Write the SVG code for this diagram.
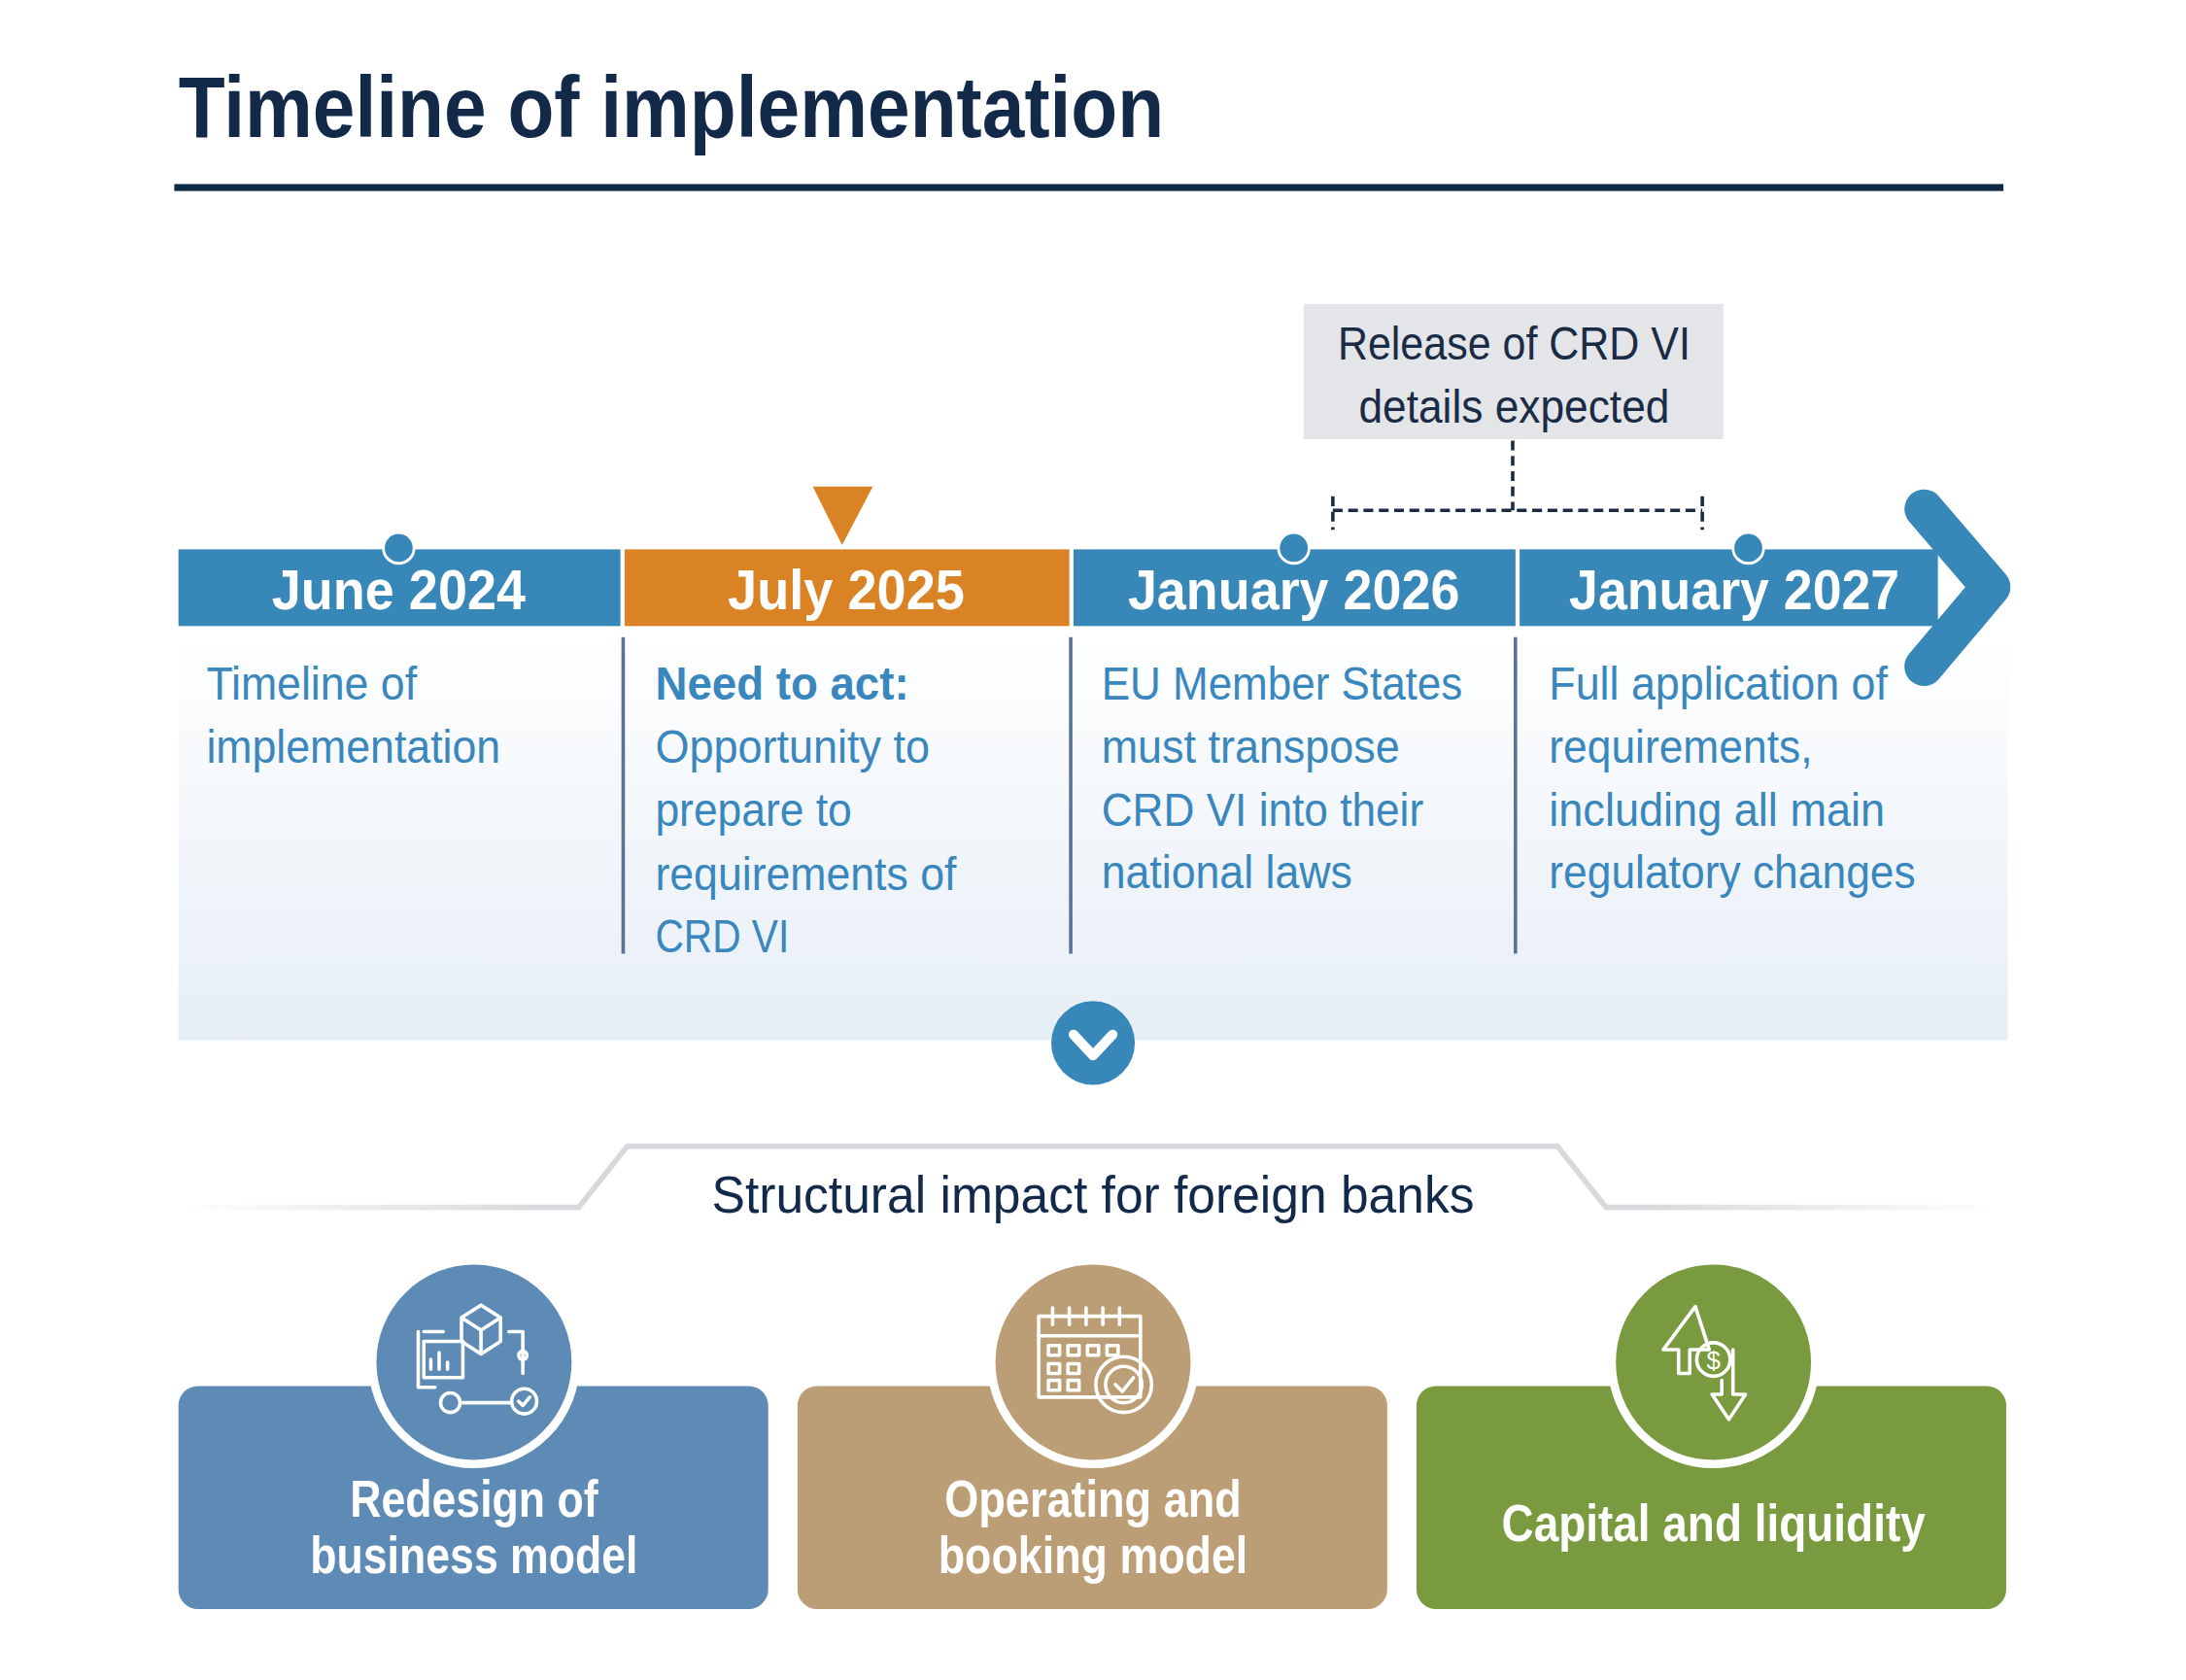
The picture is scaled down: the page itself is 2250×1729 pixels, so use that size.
<svg xmlns="http://www.w3.org/2000/svg" width="2250" height="1729" viewBox="0 0 2250 1729">
<style>
text{font-family:"Liberation Sans",Arial,sans-serif}
.yr{font-size:40px;font-weight:bold;fill:#fff;text-anchor:middle}
.bd{font-size:34px;fill:#3a87bd}
.cd{font-size:37px;font-weight:bold;fill:#fff;text-anchor:middle}
.sep{stroke:#5a7394;stroke-width:2.5}
.ic{fill:none;stroke:#fff;stroke-width:2.5;stroke-linejoin:round;stroke-linecap:round}
.dash{fill:none;stroke:#1a2b45;stroke-width:2.5;stroke-dasharray:7 4}
</style>
<defs>
<linearGradient id="bg" x1="0" y1="0" x2="0" y2="1"><stop offset="0" stop-color="#ffffff"/><stop offset="1" stop-color="#e6eef6"/></linearGradient>
<linearGradient id="ln" x1="0" y1="0" x2="1" y2="0"><stop offset="0" stop-color="#d7d9dc" stop-opacity="0"/><stop offset="0.2" stop-color="#d7d9dc"/><stop offset="0.8" stop-color="#d7d9dc"/><stop offset="1" stop-color="#d7d9dc" stop-opacity="0"/></linearGradient>
</defs>
<rect width="2250" height="1729" fill="#fff"/>
<g transform="scale(1.435)">
<g id="title">
<text x="128" y="98" font-size="62" font-weight="bold" fill="#12294a" textLength="707" lengthAdjust="spacingAndGlyphs">Timeline of implementation</text>
<rect x="125" y="132" width="1312" height="5" fill="#0f2a47"/>
</g>
<rect id="panel" x="128" y="449" width="1312" height="297" fill="url(#bg)"/>
<g id="connectors">
<path class="dash" d="M1085 316V366M956 366H1221M956 356V380M1221 356V380"/>
<path d="M1380 365L1428 421L1380 478" fill="none" stroke="#3787b9" stroke-width="28" stroke-linecap="round" stroke-linejoin="round"/>
<line class="sep" x1="447" y1="457" x2="447" y2="684"/>
<line class="sep" x1="768" y1="457" x2="768" y2="684"/>
<line class="sep" x1="1087" y1="457" x2="1087" y2="684"/>
</g>
<g id="june2024">
<rect x="128" y="394" width="317" height="55" fill="#3787b9"/>
<circle cx="286" cy="393" r="11" fill="#3787b9" stroke="#fff" stroke-width="2"/>
<text class="yr" x="286" y="437" textLength="182" lengthAdjust="spacingAndGlyphs">June 2024</text>
<text class="bd" x="148" y="502" textLength="151" lengthAdjust="spacingAndGlyphs">Timeline of</text>
<text class="bd" x="148" y="547" textLength="211" lengthAdjust="spacingAndGlyphs">implementation</text>
</g>
<g id="july2025">
<rect x="448" y="394" width="319" height="55" fill="#d98324"/>
<path d="M583 349H626L604 391Z" fill="#d98324"/>
<text class="yr" x="607" y="437" textLength="170" lengthAdjust="spacingAndGlyphs">July 2025</text>
<text class="bd" x="470" y="502" font-weight="bold" textLength="182" lengthAdjust="spacingAndGlyphs">Need to act:</text>
<text class="bd" x="470" y="547" textLength="197" lengthAdjust="spacingAndGlyphs">Opportunity to</text>
<text class="bd" x="470" y="592" textLength="141" lengthAdjust="spacingAndGlyphs">prepare to</text>
<text class="bd" x="470" y="638" textLength="216" lengthAdjust="spacingAndGlyphs">requirements of</text>
<text class="bd" x="470" y="683" textLength="96" lengthAdjust="spacingAndGlyphs">CRD VI</text>
</g>
<g id="jan2026">
<rect x="770" y="394" width="317" height="55" fill="#3787b9"/>
<circle cx="928" cy="393" r="11" fill="#3787b9" stroke="#fff" stroke-width="2"/>
<text class="yr" x="928" y="437" textLength="238" lengthAdjust="spacingAndGlyphs">January 2026</text>
<text class="bd" x="790" y="502" textLength="259" lengthAdjust="spacingAndGlyphs">EU Member States</text>
<text class="bd" x="790" y="547" textLength="214" lengthAdjust="spacingAndGlyphs">must transpose</text>
<text class="bd" x="790" y="592" textLength="231" lengthAdjust="spacingAndGlyphs">CRD VI into their</text>
<text class="bd" x="790" y="637" textLength="180" lengthAdjust="spacingAndGlyphs">national laws</text>
</g>
<g id="jan2027">
<rect x="1090" y="394" width="300" height="55" fill="#3787b9"/>
<circle cx="1254" cy="393" r="11" fill="#3787b9" stroke="#fff" stroke-width="2"/>
<text class="yr" x="1244" y="437" textLength="237" lengthAdjust="spacingAndGlyphs">January 2027</text>
<text class="bd" x="1111" y="502" textLength="243" lengthAdjust="spacingAndGlyphs">Full application of</text>
<text class="bd" x="1111" y="547" textLength="189" lengthAdjust="spacingAndGlyphs">requirements,</text>
<text class="bd" x="1111" y="592" textLength="241" lengthAdjust="spacingAndGlyphs">including all main</text>
<text class="bd" x="1111" y="637" textLength="263" lengthAdjust="spacingAndGlyphs">regulatory changes</text>
</g>
<g id="release">
<rect x="935" y="218" width="301" height="97" fill="#e3e5e9"/>
<text x="1086" y="258" font-size="34" fill="#1a2b45" text-anchor="middle" textLength="253" lengthAdjust="spacingAndGlyphs">Release of CRD VI</text>
<text x="1086" y="303" font-size="34" fill="#1a2b45" text-anchor="middle" textLength="223" lengthAdjust="spacingAndGlyphs">details expected</text>
</g>
<g id="down">
<circle cx="784" cy="748" r="30" fill="#3787b9"/>
<path d="M770 742L784 757L798 742" fill="none" stroke="#fff" stroke-width="7" stroke-linecap="round" stroke-linejoin="round"/>
</g>
<g id="structural">
<path d="M130 866H415L450 822H1117L1152 866H1435" fill="none" stroke="url(#ln)" stroke-width="4"/>
<text x="784" y="870" font-size="38" fill="#12294a" text-anchor="middle" textLength="547" lengthAdjust="spacingAndGlyphs">Structural impact for foreign banks</text>
</g>
<g id="redesign">
<rect x="128" y="994" width="423" height="160" rx="14" fill="#5e8bb5"/>
<circle cx="340" cy="977" r="73" fill="#5e8bb5" stroke="#fff" stroke-width="6"/>
<g class="ic"><path d="M331 945L345 936L359 945L359 962L345 971L331 962ZM331 945L345 954L359 945M345 954V971"/><rect x="304" y="962" width="28" height="26"/><path d="M309 982V975M315 982V970M321 982V977M300 955V995H312M304 955H318"/><circle cx="323" cy="1006" r="7"/><circle cx="376" cy="1005" r="9"/><path d="M372 1005L375 1008L380 1002M332 1006H366M365 955H375V985"/><circle cx="375" cy="972" r="3"/></g>
<text class="cd" x="340" y="1088" textLength="178" lengthAdjust="spacingAndGlyphs">Redesign of</text>
<text class="cd" x="340" y="1128" textLength="235" lengthAdjust="spacingAndGlyphs">business model</text>
</g>
<g id="operating">
<rect x="572" y="994" width="423" height="160" rx="14" fill="#bc9e76"/>
<circle cx="784" cy="977" r="73" fill="#bc9e76" stroke="#fff" stroke-width="6"/>
<g class="ic"><rect x="745" y="944" width="73" height="58"/><path d="M745 958H818M755 938V950M767 938V950M779 938V950M791 938V950M803 938V950"/><path d="M752 965h8v7h-8zM766 965h8v7h-8zM780 965h8v7h-8zM794 965h8v7h-8zM752 978h8v7h-8zM766 978h8v7h-8zM752 990h8v7h-8zM766 990h8v7h-8z"/><circle cx="806" cy="993" r="20"/><circle cx="806" cy="993" r="13"/><path d="M800 993L805 998L813 988"/></g>
<text class="cd" x="784" y="1088" textLength="213" lengthAdjust="spacingAndGlyphs">Operating and</text>
<text class="cd" x="784" y="1128" textLength="222" lengthAdjust="spacingAndGlyphs">booking model</text>
</g>
<g id="capital">
<rect x="1016" y="994" width="423" height="160" rx="14" fill="#7a9a40"/>
<circle cx="1229" cy="977" r="73" fill="#7a9a40" stroke="#fff" stroke-width="6"/>
<g class="ic"><path d="M1216 937L1193 968H1204V985H1212V968H1226Z"/><circle cx="1229" cy="975" r="12"/><path d="M1243 968V1000H1252L1240 1018L1228 1000H1235V990"/><text x="1229" y="982" font-size="18" fill="#fff" stroke="none" text-anchor="middle">$</text></g>
<text class="cd" x="1229" y="1105" textLength="304" lengthAdjust="spacingAndGlyphs">Capital and liquidity</text>
</g>
</g>
</svg>
